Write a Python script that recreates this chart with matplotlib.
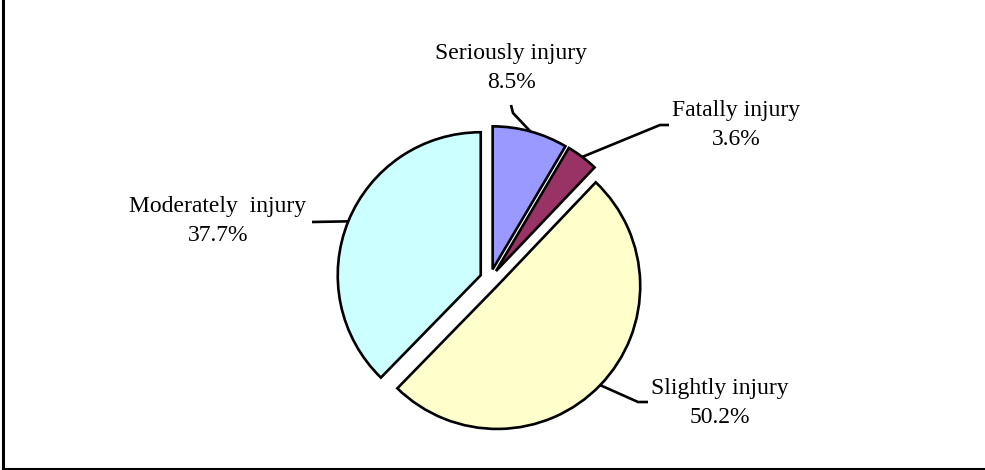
import numpy as np
import matplotlib.pyplot as plt

# injury severity shares (%), clockwise from 12 o'clock
labels = ['Seriously injury', 'Fatally injury', 'Slightly injury', 'Moderately  injury']
shares = [8.5, 3.6, 50.2, 37.7]
colors = ['#9999FF', '#993366', '#FFFFCC', '#CCFFFF']

W, H = 985, 470
fig = plt.figure(figsize=(W / 100, H / 100), dpi=100)
ax = fig.add_axes([0, 0, 1, 1])

cx, cy, r = 490, H - 279, 143
# explode is in data units here (pixels)
wedges, _ = ax.pie(shares, colors=colors, startangle=90, counterclock=False,
                   explode=[10] * 4, radius=r, center=(cx, cy), frame=True,
                   wedgeprops=dict(edgecolor='black', linewidth=1.9))
ax.set_xlim(0, W)
ax.set_ylim(0, H)
ax.set_aspect('equal')
ax.axis('off')

# label text centre, leader elbow and leader end (pixel coords, y down)
label_pos = [(511, 68), (736, 125), (720, 403), (218, 221)]
elbows = [((513, 113), (511, 105)),
          ((660, 125), (669, 125)),
          ((638, 402), (648, 402)),
          ((312, 222), (312, 222))]

for w, lab, val, (tx, ty), (elb, end) in zip(wedges, labels, shares, label_pos, elbows):
    ang = np.deg2rad((w.theta1 + w.theta2) / 2)
    wx, wy = w.center
    px = wx + w.r * np.cos(ang)
    py = wy + w.r * np.sin(ang)
    ax.plot([px, elb[0], end[0]], [py, H - elb[1], H - end[1]],
            color='black', lw=1.9, solid_capstyle='butt')
    ax.text(tx, H - ty, f'{lab}\n{val:.1f}%', ha='center', va='center',
            multialignment='center', fontsize=17, linespacing=1.5,
            family='Liberation Serif')

# outer frame (left and bottom edges visible)
ax.plot([2.5, 2.5], [H, H - 468.5], color='black', lw=2.2)
ax.plot([2.5, W], [H - 468.5, H - 468.5], color='black', lw=2.2)

fig.savefig('out.png', dpi=100)
